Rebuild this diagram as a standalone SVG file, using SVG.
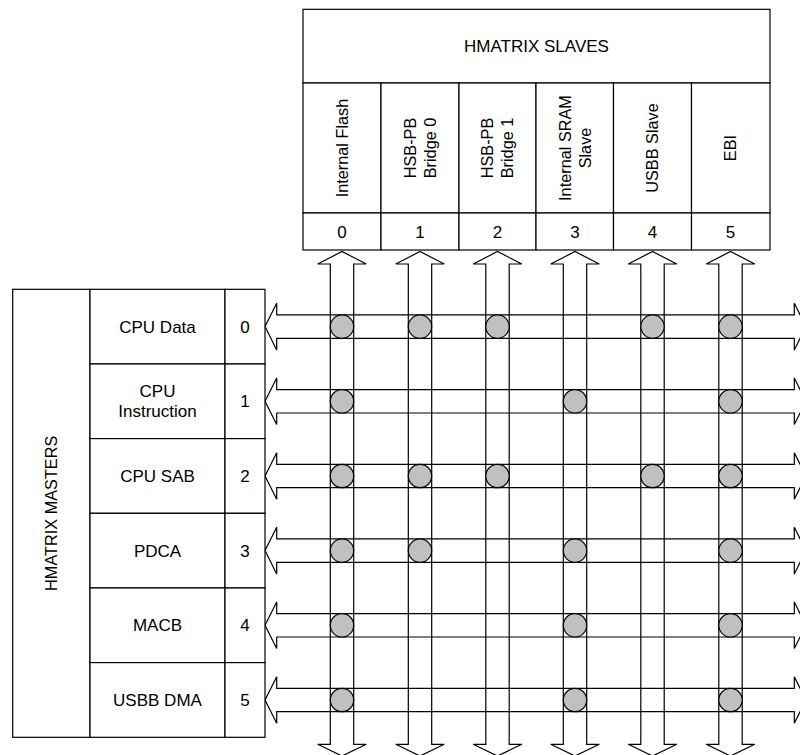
<svg xmlns="http://www.w3.org/2000/svg" width="800" height="755" viewBox="0 0 800 755">
<defs>
<style>
.box{fill:#fff;stroke:#000;stroke-width:1.2}
.ln{fill:none;stroke:#000;stroke-width:1.2}
.t{font-family:"Liberation Sans",Arial,sans-serif;font-size:17px;fill:#000;text-anchor:middle}
.tv{font-family:"Liberation Sans",Arial,sans-serif;font-size:16.3px;fill:#000;text-anchor:middle}
.arr{fill:none;stroke:#000;stroke-width:1.2}
.sw{fill:#c0c0c0;stroke:#000;stroke-width:1.2}
</style>
</defs>
<rect width="800" height="755" fill="#fff"/>

<!-- connectors: bus arrows -->
<g id="connectors">
  <g id="slave-buses">
    <path class="arr" d="M330.3,744.3 V264 H317.7 L342,251.5 L366.3,264 H353.7 V744.3 H366.3 L342,756 L317.7,744.3 Z"/>
    <path class="arr" d="M408.3,744.3 V264 H395.7 L420,251.5 L444.3,264 H431.7 V744.3 H444.3 L420,756 L395.7,744.3 Z"/>
    <path class="arr" d="M485.8,744.3 V264 H473.2 L497.5,251.5 L521.8,264 H509.2 V744.3 H521.8 L497.5,756 L473.2,744.3 Z"/>
    <path class="arr" d="M563.3,744.3 V264 H550.7 L575,251.5 L599.3,264 H586.7 V744.3 H599.3 L575,756 L550.7,744.3 Z"/>
    <path class="arr" d="M640.8,744.3 V264 H628.2 L652.5,251.5 L676.8,264 H664.2 V744.3 H676.8 L652.5,756 L628.2,744.3 Z"/>
    <path class="arr" d="M718.8,744.3 V264 H706.2 L730.5,251.5 L754.8,264 H742.2 V744.3 H754.8 L730.5,756 L706.2,744.3 Z"/>
  </g>
  <g id="master-buses">
    <path class="arr" d="M276.7,314.9 H794.3 V303.3 L806,326.6 L794.3,349.9 V338.3 H276.7 V349.9 L265,326.6 L276.7,303.3 Z"/>
    <path class="arr" d="M276.7,389.6 H794.3 V378 L806,401.3 L794.3,424.6 V413 H276.7 V424.6 L265,401.3 L276.7,378 Z"/>
    <path class="arr" d="M276.7,464.3 H794.3 V452.7 L806,476 L794.3,499.3 V487.7 H276.7 V499.3 L265,476 L276.7,452.7 Z"/>
    <path class="arr" d="M276.7,538.9 H794.3 V527.3 L806,550.6 L794.3,573.9 V562.3 H276.7 V573.9 L265,550.6 L276.7,527.3 Z"/>
    <path class="arr" d="M276.7,613.6 H794.3 V602 L806,625.3 L794.3,648.6 V637 H276.7 V648.6 L265,625.3 L276.7,602 Z"/>
    <path class="arr" d="M276.7,688.3 H794.3 V676.7 L806,700 L794.3,723.3 V711.7 H276.7 V723.3 L265,700 L276.7,676.7 Z"/>
  </g>
  <g id="switches">
    <!-- row 0 -->
    <circle class="sw" cx="342" cy="326.6" r="11.7"/>
    <circle class="sw" cx="420" cy="326.6" r="11.7"/>
    <circle class="sw" cx="497.5" cy="326.6" r="11.7"/>
    <circle class="sw" cx="652.5" cy="326.6" r="11.7"/>
    <circle class="sw" cx="730.5" cy="326.6" r="11.7"/>
    <!-- row 1 -->
    <circle class="sw" cx="342" cy="401.3" r="11.7"/>
    <circle class="sw" cx="575" cy="401.3" r="11.7"/>
    <circle class="sw" cx="730.5" cy="401.3" r="11.7"/>
    <!-- row 2 -->
    <circle class="sw" cx="342" cy="476" r="11.7"/>
    <circle class="sw" cx="420" cy="476" r="11.7"/>
    <circle class="sw" cx="497.5" cy="476" r="11.7"/>
    <circle class="sw" cx="652.5" cy="476" r="11.7"/>
    <circle class="sw" cx="730.5" cy="476" r="11.7"/>
    <!-- row 3 -->
    <circle class="sw" cx="342" cy="550.6" r="11.7"/>
    <circle class="sw" cx="420" cy="550.6" r="11.7"/>
    <circle class="sw" cx="575" cy="550.6" r="11.7"/>
    <circle class="sw" cx="730.5" cy="550.6" r="11.7"/>
    <!-- row 4 -->
    <circle class="sw" cx="342" cy="625.3" r="11.7"/>
    <circle class="sw" cx="575" cy="625.3" r="11.7"/>
    <circle class="sw" cx="730.5" cy="625.3" r="11.7"/>
    <!-- row 5 -->
    <circle class="sw" cx="342" cy="700" r="11.7"/>
    <circle class="sw" cx="575" cy="700" r="11.7"/>
    <circle class="sw" cx="730.5" cy="700" r="11.7"/>
  </g>
</g>

<!-- slaves -->
<g id="slaves">
  <g id="slaves-header">
    <rect class="box" x="303" y="9.3" width="467" height="73.7"/>
    <text class="t" x="536.5" y="52">HMATRIX SLAVES</text>
  </g>
  <g id="slave-0">
    <rect class="box" x="303" y="83" width="78" height="130"/>
    <rect class="box" x="303" y="213" width="78" height="37"/>
    <text class="tv" transform="translate(342,148) rotate(-90)" x="0" y="5.8">Internal Flash</text>
    <text class="t" x="342" y="238">0</text>
  </g>
  <g id="slave-1">
    <rect class="box" x="381" y="83" width="78" height="130"/>
    <rect class="box" x="381" y="213" width="78" height="37"/>
    <text class="tv" transform="translate(420,148) rotate(-90)"><tspan x="0" y="-4.5">HSB-PB</tspan><tspan x="0" y="15.5">Bridge 0</tspan></text>
    <text class="t" x="420" y="238">1</text>
  </g>
  <g id="slave-2">
    <rect class="box" x="459" y="83" width="77" height="130"/>
    <rect class="box" x="459" y="213" width="77" height="37"/>
    <text class="tv" transform="translate(497.5,148) rotate(-90)"><tspan x="0" y="-4.5">HSB-PB</tspan><tspan x="0" y="15.5">Bridge 1</tspan></text>
    <text class="t" x="497.5" y="238">2</text>
  </g>
  <g id="slave-3">
    <rect class="box" x="536" y="83" width="77.5" height="130"/>
    <rect class="box" x="536" y="213" width="77.5" height="37"/>
    <text class="tv" transform="translate(575,148) rotate(-90)"><tspan x="0" y="-4.5">Internal SRAM</tspan><tspan x="0" y="15.5">Slave</tspan></text>
    <text class="t" x="575" y="238">3</text>
  </g>
  <g id="slave-4">
    <rect class="box" x="613.5" y="83" width="78" height="130"/>
    <rect class="box" x="613.5" y="213" width="78" height="37"/>
    <text class="tv" transform="translate(652.5,148) rotate(-90)" x="0" y="5.8">USBB Slave</text>
    <text class="t" x="652.5" y="238">4</text>
  </g>
  <g id="slave-5">
    <rect class="box" x="691.5" y="83" width="78.5" height="130"/>
    <rect class="box" x="691.5" y="213" width="78.5" height="37"/>
    <text class="tv" transform="translate(730.5,148) rotate(-90)" x="0" y="5.8">EBI</text>
    <text class="t" x="730.5" y="238">5</text>
  </g>
</g>

<!-- masters -->
<g id="masters">
  <g id="masters-header">
    <rect class="box" x="12.7" y="289.3" width="77.3" height="448"/>
    <text class="tv" transform="translate(51,513.3) rotate(-90)" x="0" y="5.8">HMATRIX MASTERS</text>
  </g>
  <g id="master-0">
    <rect class="box" x="90" y="289.3" width="135" height="74.7"/>
    <rect class="box" x="225" y="289.3" width="40" height="74.7"/>
    <text class="t" x="157.5" y="332.6">CPU Data</text>
    <text class="t" x="245" y="332.6">0</text>
  </g>
  <g id="master-1">
    <rect class="box" x="90" y="364" width="135" height="74.6"/>
    <rect class="box" x="225" y="364" width="40" height="74.6"/>
    <text class="t" x="157.5"><tspan x="157.5" y="396.5">CPU</tspan><tspan x="157.5" y="416.5">Instruction</tspan></text>
    <text class="t" x="245" y="407.3">1</text>
  </g>
  <g id="master-2">
    <rect class="box" x="90" y="438.6" width="135" height="74.7"/>
    <rect class="box" x="225" y="438.6" width="40" height="74.7"/>
    <text class="t" x="157.5" y="482">CPU SAB</text>
    <text class="t" x="245" y="482">2</text>
  </g>
  <g id="master-3">
    <rect class="box" x="90" y="513.3" width="135" height="74.7"/>
    <rect class="box" x="225" y="513.3" width="40" height="74.7"/>
    <text class="t" x="157.5" y="556.6">PDCA</text>
    <text class="t" x="245" y="556.6">3</text>
  </g>
  <g id="master-4">
    <rect class="box" x="90" y="588" width="135" height="74.6"/>
    <rect class="box" x="225" y="588" width="40" height="74.6"/>
    <text class="t" x="157.5" y="631.3">MACB</text>
    <text class="t" x="245" y="631.3">4</text>
  </g>
  <g id="master-5">
    <rect class="box" x="90" y="662.6" width="135" height="74.7"/>
    <rect class="box" x="225" y="662.6" width="40" height="74.7"/>
    <text class="t" x="157.5" y="706">USBB DMA</text>
    <text class="t" x="245" y="706">5</text>
  </g>
</g>
</svg>
